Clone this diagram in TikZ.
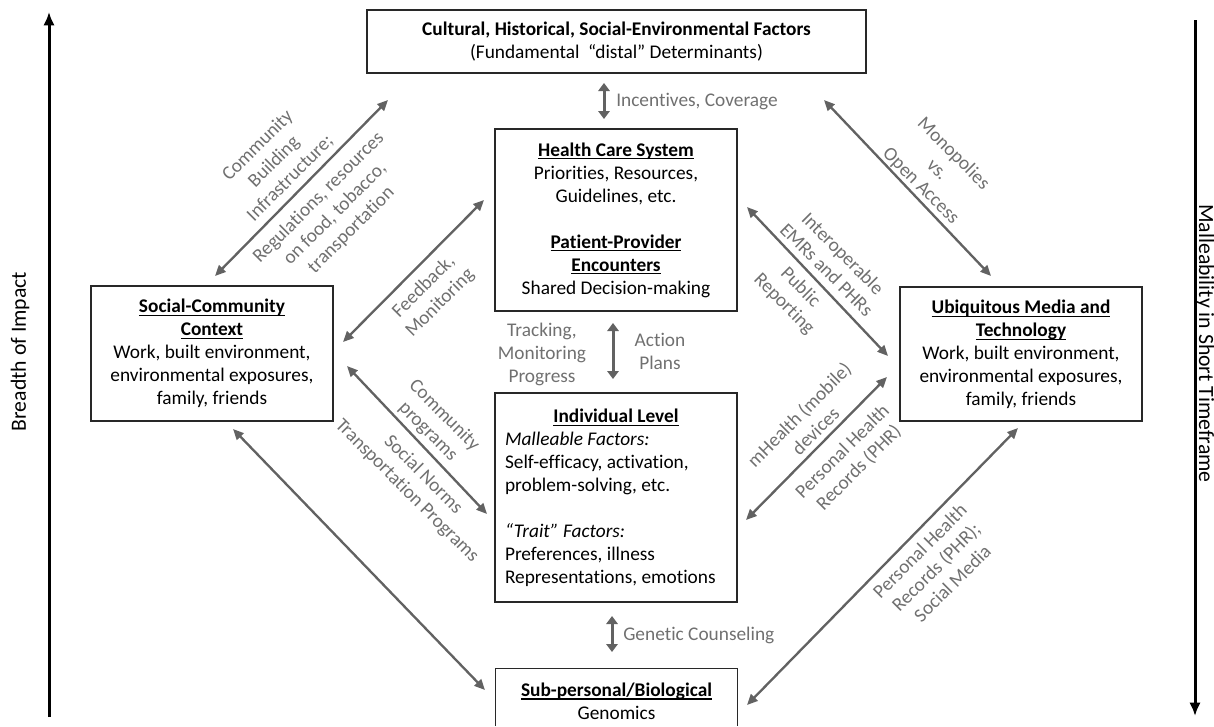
\documentclass[tikz,border=0pt]{standalone}
\usepackage{fontspec}
\setmainfont{Carlito}[Ligatures=NoCommon]
\usetikzlibrary{arrows.meta,calc}
\definecolor{arrowgray}{RGB}{98,98,98}
\definecolor{labelgray}{RGB}{112,112,112}
\definecolor{boxline}{RGB}{40,40,40}
\newcommand{\uln}[1]{\setbox0\hbox{#1}\rlap{\rule[-2.5pt]{\wd0}{0.8pt}}\box0}
\begin{document}
\begin{tikzpicture}[x=0.75pt,y=-0.75pt,font=\fontsize{14.5}{17.25}\selectfont,
  box/.style={draw=boxline,line width=1.1pt,align=center,inner sep=0pt},
  lbl/.style={text=labelgray,align=center,inner sep=0pt},
  dbl/.style={draw=arrowgray,line width=1.75pt,{Triangle[length=8pt,width=7pt]}-{Triangle[length=8pt,width=7pt]}},
  vdbl/.style={draw=arrowgray,line width=2.25pt,{Triangle[length=6pt,width=8.5pt]}-{Triangle[length=6pt,width=8.5pt]}},
  side/.style={draw=black,line width=2.25pt,-{Latex[length=10pt,width=8.5pt]}},
  sidetext/.style={inner sep=0pt,font=\fontsize{16.3}{19}\selectfont}]
\useasboundingbox (0,0) rectangle (1214,726);

% boxes
\node[box,minimum width=374.25pt,minimum height=47.25pt] (top) at (616.5,41.5)
  {\textbf{Cultural, Historical, Social-Environmental Factors}\\(Fundamental\hspace{0.45em}“distal” Determinants)};
\node[box,minimum width=181.5pt,minimum height=136.5pt] (hcs) at (616,220)
  {\uln{\textbf{Health Care System}}\\Priorities, Resources,\\Guidelines, etc.\\[17.25pt]\uln{\textbf{Patient-Provider}}\\\uln{\textbf{Encounters}}\\Shared Decision-making};
\node[box,minimum width=181.5pt,minimum height=101.25pt] (soc) at (212,353.5)
  {\uln{\textbf{Social-Community}}\\\uln{\textbf{Context}}\\Work, built environment,\\environmental exposures,\\family, friends};
\node[box,minimum width=181.5pt,minimum height=100.5pt] (ubq) at (1021,354)
  {\uln{\textbf{Ubiquitous Media and}}\\\uln{\textbf{Technology}}\\Work, built environment,\\environmental exposures,\\family, friends};
\node[box,text width=166.5pt,inner xsep=7.5pt,align=flush left,minimum height=156.75pt] (ind) at (616,497.5)
  {\makebox[166.5pt]{\uln{\textbf{Individual Level}}}\\\textit{Malleable Factors:}\\Self-efficacy, activation,\\problem-solving, etc.\\[17.25pt]\textit{“Trait” Factors:}\\Preferences, illness\\Representations, emotions};
\node[align=center,inner sep=0pt,minimum width=180.75pt,minimum height=48pt] (sub) at (616.5,701)
  {\uln{\textbf{Sub-personal/Biological}}\\Genomics};
\coordinate (pagebottom) at (0,726);
\draw[draw=boxline,line width=1.1pt] (sub.north west |- pagebottom) -- (sub.north west) -- (sub.north east) -- (sub.north east |- pagebottom);

% side axes
\coordinate (lb) at (49,717);
\coordinate (lt) at (49,12);
\coordinate (rt) at (1195,20);
\coordinate (rb) at (1195,716);
\draw[side] (lb) -- (lt);
\draw[side] (rt) -- (rb);
\node[sidetext,rotate=90] (breadth) at (20,351.5) {Breadth of Impact};
\node[sidetext,rotate=-90] (mall) at (1205,343.5) {Malleability in Short Timeframe};

% vertical arrows
\coordinate (v1a) at (604,83);  \coordinate (v1b) at (604,119);
\coordinate (v2a) at (613,323); \coordinate (v2b) at (613,379);
\coordinate (v3a) at (612,616); \coordinate (v3b) at (612,652);
\draw[vdbl] (v1a) -- (v1b);
\draw[vdbl] (v2a) -- (v2b);
\draw[vdbl] (v3a) -- (v3b);
\node[lbl,anchor=west] (linc) at (616,102) {Incentives, Coverage};
\node[lbl] (ltrack) at (542,354) {Tracking,\\Monitoring\\Progress};
\node[lbl] (lact) at (660,351) {Action\\Plans};
\node[lbl,anchor=west] (lgen) at (623,635) {Genetic Counseling};

% diagonal arrows
\coordinate (d1a) at (215,276); \coordinate (d1b) at (388,100);
\coordinate (d2a) at (343,342); \coordinate (d2b) at (484,200);
\coordinate (d3a) at (824,100); \coordinate (d3b) at (991,276);
\coordinate (d4a) at (747,207); \coordinate (d4b) at (888,356);
\coordinate (d5a) at (347,366); \coordinate (d5b) at (487,514);
\coordinate (d6a) at (746,520); \coordinate (d6b) at (887,377);
\coordinate (d7a) at (233,429); \coordinate (d7b) at (485,690);
\coordinate (d8a) at (747,705); \coordinate (d8b) at (1018,428);
\draw[dbl] (d1a) -- (d1b);
\draw[dbl] (d2a) -- (d2b);
\draw[dbl] (d3a) -- (d3b);
\draw[dbl] (d4a) -- (d4b);
\draw[dbl] (d5a) -- (d5b);
\draw[dbl] (d6a) -- (d6b);
\draw[dbl] (d7a) -- (d7b);
\draw[dbl] (d8a) -- (d8b);

% diagonal labels
\node[lbl,rotate=45] (lcb) at (274,162) {Community\\Building\\Infrastructure;};
\node[lbl,rotate=45] (lreg) at (335,214) {Regulations, resources\\on food, tobacco,\\transportation};
\node[lbl,rotate=45] (lfb) at (432,295) {Feedback,\\Monitoring};
\node[lbl,rotate=-45] (lmono) at (937,170) {Monopolies\\vs.\\Open Access};
\node[lbl,rotate=-45] (linter) at (835,261.5) {Interoperable\\EMRs and PHRs};
\node[lbl,rotate=-45] (lpub) at (792,296) {Public\\Reporting};
\node[lbl,rotate=-45] (lcp) at (436,423.5) {Community\\programs};
\node[lbl,rotate=-45] (lsn) at (415,483) {Social Norms\\Transportation Programs};
\node[lbl,rotate=45] (lmh) at (807,422.5) {mHealth (mobile)\\devices};
\node[lbl,rotate=45] (lphr) at (851,460) {Personal Health\\Records (PHR)};
\node[lbl,rotate=45] (lphr2) at (936,567) {Personal Health\\Records (PHR);\\Social Media};
\end{tikzpicture}
\end{document}
